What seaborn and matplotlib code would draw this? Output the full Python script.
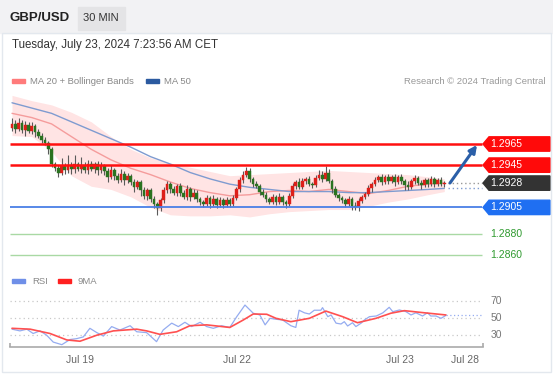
import numpy as np
import pandas as pd
import seaborn as sns
import matplotlib.pyplot as plt
from matplotlib.patches import Polygon, Rectangle

# ---- data (30 min bars, index 0 = first bar) ----
closes = [1.2984, 1.2979, 1.2985, 1.2978, 1.2983, 1.2977, 1.2982, 1.2976,
          1.2973, 1.2969, 1.2966, 1.2960, 1.2946,
          1.2942, 1.2938, 1.2944, 1.2940, 1.2945, 1.2941, 1.2946, 1.2941, 1.2945, 1.2940, 1.2946,
          1.2941, 1.2946, 1.2940, 1.2944,
          1.2939, 1.2934, 1.2940, 1.2935, 1.2931, 1.2937, 1.2931, 1.2935,
          1.2929, 1.2924, 1.2929, 1.2921, 1.2916, 1.2921, 1.2913, 1.2908, 1.2904,
          1.2912, 1.2921, 1.2927, 1.2922, 1.2919, 1.2925,
          1.2919, 1.2915, 1.2922, 1.2915, 1.2919, 1.2913, 1.2910,
          1.2908, 1.2914, 1.2908, 1.2913, 1.2907, 1.2912, 1.2907, 1.2912, 1.2908, 1.2914,
          1.2922, 1.2931, 1.2936, 1.2939, 1.2932,
          1.2927, 1.2925, 1.2920, 1.2917, 1.2913, 1.2910,
          1.2915, 1.2910, 1.2915, 1.2910, 1.2908, 1.2916,
          1.2925, 1.2929, 1.2924, 1.2930, 1.2932, 1.2927, 1.2926, 1.2933, 1.2936, 1.2932, 1.2938,
          1.2930, 1.2922, 1.2917, 1.2914, 1.2912,
          1.2908, 1.2913, 1.2906, 1.2905, 1.2911, 1.2915,
          1.2918, 1.2923, 1.2927, 1.2931, 1.2934, 1.2929,
          1.2934, 1.2930, 1.2934, 1.2929, 1.2934, 1.2930, 1.2926, 1.2924, 1.2930, 1.2933,
          1.2928, 1.2926, 1.2931, 1.2927, 1.2932, 1.2927, 1.2931, 1.2927, 1.2928]
first_open = 1.2980
up_wick = [6, 4, 5, 3, 4, 3, 4, 2, 3, 2, 3, 2, 2,
           2, 3, 8, 3, 10, 3, 9, 2, 8, 3, 4, 3, 2, 3, 4,
           2, 3, 5, 2, 3, 4, 2, 3, 2, 3, 2, 2, 3, 2, 2, 3, 2,
           2, 3, 3, 2, 3, 2, 3, 2, 4, 2, 3, 2, 2,
           2, 3, 2, 4, 2, 3, 2, 3, 2, 3, 2, 3, 3, 4, 3,
           2, 3, 2, 2, 3, 2, 3, 2, 4, 2, 2, 3,
           3, 2, 4, 3, 2, 3, 2, 3, 4, 3, 6, 3, 2, 3, 2, 2,
           2, 3, 2, 4, 3, 2, 2, 3, 2, 3, 2, 3,
           2, 3, 2, 3, 2, 3, 2, 4, 2, 3, 2, 3, 2, 2, 3, 2, 2, 3, 2]
lo_wick = [3, 4, 2, 3, 5, 2, 3, 4, 2, 3, 2, 4, 3,
           3, 4, 2, 3, 2, 4, 3, 2, 3, 2, 3, 2, 3, 4, 2,
           3, 5, 2, 4, 3, 2, 5, 3, 3, 4, 2, 5, 3, 4, 3, 4, 6,
           2, 3, 2, 3, 2, 3, 3, 2, 3, 4, 2, 3, 3,
           3, 2, 4, 2, 3, 2, 3, 2, 3, 2, 2, 2, 3, 2, 3,
           3, 2, 3, 2, 3, 2, 2, 3, 2, 3, 4, 2,
           2, 3, 2, 2, 3, 2, 3, 2, 2, 3, 2, 2, 3, 2, 3, 3,
           3, 2, 3, 2, 3, 2, 2, 2, 3, 2, 2, 3,
           2, 3, 2, 4, 2, 3, 5, 3, 2, 3, 2, 4, 2, 3, 2, 3, 2, 2, 3]

band_idx = [0, 6, 12, 18, 24, 30, 36, 42, 48, 54, 60, 66, 72, 78, 84, 90, 96, 102, 108, 114, 120, 126, 131]
ma50 = [1.3004, 1.2999, 1.2994, 1.2986, 1.2978, 1.2970, 1.2962, 1.2953, 1.2946, 1.2938, 1.2932, 1.2927,
        1.2924, 1.2922, 1.2920, 1.2920, 1.2920, 1.2919, 1.2919, 1.2920, 1.2921, 1.2922, 1.2923]
ma20 = [1.2994, 1.2990, 1.2984, 1.2972, 1.2960, 1.2950, 1.2942, 1.2936, 1.2929, 1.2923, 1.2919, 1.2916,
        1.2917, 1.2920, 1.2921, 1.2920, 1.2922, 1.2920, 1.2918, 1.2921, 1.2925, 1.2927, 1.2928]
bb_upper = [1.3011, 1.3006, 1.3002, 1.2995, 1.2986, 1.2972, 1.2960, 1.2952, 1.2947, 1.2943, 1.2939, 1.2935,
            1.2936, 1.2937, 1.2938, 1.2939, 1.2940, 1.2939, 1.2938, 1.2937, 1.2936, 1.2934, 1.2932]
bb_lower = [1.2973, 1.2972, 1.2958, 1.2935, 1.2925, 1.2922, 1.2915, 1.2905, 1.2898, 1.2897, 1.2897, 1.2898,
            1.2896, 1.2899, 1.2901, 1.2902, 1.2903, 1.2903, 1.2906, 1.2910, 1.2913, 1.2917, 1.2920]

rsi_idx = [0, 2.4, 4.5, 6.4, 8.5, 10.5, 12.5, 15.1, 17.6, 19.6, 21.6, 23.6, 25.7, 27.7, 30.2, 32.7,
           35.8, 37.8, 40.8, 43.8, 45.8, 48.4, 50.4, 52.4, 54.4, 57.0, 59.0, 61.0, 63.5, 66.0, 68.1,
           70.6, 73.1, 75.1, 76.7, 78.2, 80.0, 82.0, 84.5, 86.0, 87.0, 88.6, 90.1, 91.6, 93.6, 94.1,
           95.7, 96.7, 98.2, 99.7, 100.7, 101.7, 103.2, 104.2, 105.8, 106.8, 108.3, 110.4, 112.4,
           114.3, 115.4, 117.4, 119.4, 120.9, 122.4, 124.4, 125.9, 126.9, 128.5, 130.0, 131.5]
rsi_val = [37, 35, 37, 32, 35, 30, 22, 19, 25, 26, 28, 38, 33, 29, 40, 36,
           41, 34, 33, 22.5, 36, 44, 40, 45, 40, 45, 40, 38, 41, 39, 51.5,
           65, 55.5, 53.5, 42, 49.6, 48.5, 47.7, 41, 39, 59, 56, 54.6, 59, 59, 62,
           51.5, 53.5, 44, 43, 45.7, 40.7, 44.5, 40, 44, 47.7, 51.5, 52.3, 56,
           62.4, 57.3, 59.3, 57.3, 53.5, 56, 52.3, 56, 52.3, 52.3, 49.6, 53]
ma9_idx = [0, 5.5, 11.5, 16.6, 20.6, 25.7, 30.7, 37.8, 40.8, 44.8, 49.9, 53.9, 59.0, 66.0, 70.1,
           73.1, 77.2, 80.0, 84.5, 90.1, 95.1, 100.2, 104.7, 110.3, 114.8, 118.9, 125.0, 131.5]
ma9_val = [38, 37, 32, 24.5, 23, 30, 35, 37, 35, 31, 34, 41, 42, 39, 47.7,
           54.6, 54.3, 49.6, 45.7, 49.6, 58, 51.5, 44.5, 49.6, 55.5, 58.5, 56, 53.5]

tick_pos = [20.6, 68.2, 117.6, 137.3]
tick_labels = ['Jul 19', 'Jul 22', 'Jul 23', 'Jul 28']
res_levels = [1.2965, 1.2945]
last_price = 1.2928
sup_level = 1.2905
low_levels = [1.2880, 1.2860]
rsi_grid = [70, 50, 30]

# ---- figure ----
sns.set_style('white')
plt.rcParams['font.family'] = ['Liberation Sans', 'DejaVu Sans']
W, H = 553, 375
fig = plt.figure(figsize=(W / 100, H / 100), dpi=100)


def fx(x):
    return x / W


def fy(y):
    return 1 - y / H


# header strip and frame
fig.patches.append(Rectangle((0, fy(33)), 1, 33 / H, transform=fig.transFigure,
                             color='#f2f2f4', zorder=0))
fig.patches.append(Rectangle((fx(78), fy(30)), 47 / W, 23 / H, transform=fig.transFigure,
                             color='#e4e4e6', zorder=1))
fig.patches.append(Rectangle((fx(2), fy(372)), 549 / W, 339 / H, transform=fig.transFigure,
                             fill=False, ec='#e3e8ee', lw=1, zorder=1))
fig.text(fx(10), fy(18), 'GBP/USD', fontsize=9.5, fontweight='bold', color='#222',
         va='center')
fig.text(fx(101), fy(18), '30 MIN', fontsize=8, color='#333', va='center', ha='center')
fig.text(fx(12), fy(45), 'Tuesday, July 23, 2024 7:23:56 AM CET', fontsize=8.3, color='#333',
         va='center')

# legends
fig.patches.append(Rectangle((fx(12), fy(83)), 13 / W, 4 / H, transform=fig.transFigure,
                             color='#ff7b7b'))
fig.text(fx(30), fy(81), 'MA 20 + Bollinger Bands', fontsize=6.8, color='#888', va='center')
fig.patches.append(Rectangle((fx(146), fy(83)), 13 / W, 4 / H, transform=fig.transFigure,
                             color='#2b5aa0'))
fig.text(fx(164), fy(81), 'MA 50', fontsize=6.8, color='#888', va='center')
fig.text(fx(545), fy(81), 'Research \u00a9 2024 Trading Central', fontsize=6.8, color='#999',
         va='center', ha='right')
fig.patches.append(Rectangle((fx(12), fy(283)), 13 / W, 4 / H, transform=fig.transFigure,
                             color='#6f8fe8'))
fig.text(fx(32), fy(281), 'RSI', fontsize=6.8, color='#888', va='center')
fig.patches.append(Rectangle((fx(58), fy(283)), 13 / W, 4 / H, transform=fig.transFigure,
                             color='#ff2020'))
fig.text(fx(78), fy(281), '9MA', fontsize=6.8, color='#888', va='center')

# ---- price panel ----
x_left = (10 - 12) / 3.3
x_plot_end = (482 - 12) / 3.3
x_right = (550 - 12) / 3.3
ax = fig.add_axes([fx(10), fy(265), 540 / W, 173 / H])
ax.set_xlim(x_left, x_right)
ax.set_ylim(1.28505, 1.30142)
ax.axis('off')

bands = pd.DataFrame({'idx': band_idx, 'ma20': ma20, 'ma50': ma50,
                      'upper': bb_upper, 'lower': bb_lower})
ax.fill_between(bands['idx'], bands['lower'], bands['upper'], color='#ffe4e4', lw=0, zorder=1)
sns.lineplot(data=bands, x='idx', y='ma20', ax=ax, color='#f59c9c', lw=1, zorder=2)
sns.lineplot(data=bands, x='idx', y='ma50', ax=ax, color='#7f9bd0', lw=1, zorder=2)

c = np.array(closes)
o = np.concatenate([[first_open], c[:-1]])
hi = np.maximum(o, c) + np.array(up_wick) * 1e-4
lo = np.minimum(o, c) - np.array(lo_wick) * 1e-4
idx = np.arange(len(c))
ax.vlines(idx, lo, hi, color='#5a5a5a', lw=0.8, zorder=3)
up = c >= o
body = np.maximum(np.abs(c - o), 0.0001)
ax.bar(idx[up], body[up], bottom=np.minimum(o, c)[up], width=0.8, color='#dd1f1a',
       edgecolor='#dd1f1a', lw=0.3, zorder=4)
ax.bar(idx[~up], body[~up], bottom=np.minimum(o, c)[~up], width=0.8, color='#2a7320',
       edgecolor='#2a7320', lw=0.3, zorder=4)

# levels
ax.hlines(res_levels, x_left, x_plot_end, color='#ff1010', lw=1.8, zorder=5)
ax.hlines(sup_level, x_left, x_plot_end, color='#4a7fe6', lw=1.3, zorder=5)
ax.hlines(low_levels, x_left, x_plot_end, color='#a9d9a4', lw=1, zorder=5)
ax.hlines(last_price, len(c), x_plot_end, color='#999', lw=1, ls=(0, (1, 2)), zorder=5)
ax.hlines(ma50[-1], len(c), x_plot_end, color='#7f9bd0', lw=1, ls=(0, (1, 2)), zorder=5)

tip = (483 - 12) / 3.3
shoulder = (489 - 12) / 3.3
half = 0.00068
for lvl, col in [(res_levels[0], '#ff0a0a'), (res_levels[1], '#ff0a0a'),
                 (last_price, '#333333'), (sup_level, '#1f6ff2')]:
    ax.add_patch(Polygon([(tip, lvl), (shoulder, lvl + half), (x_right, lvl + half),
                          (x_right, lvl - half), (shoulder, lvl - half)],
                         closed=True, color=col, zorder=6, clip_on=False))
    ax.text(shoulder + 0.5, lvl, f'{lvl:.4f}', color='white', fontsize=7.5, va='center',
            zorder=7)
for lvl in low_levels:
    ax.text(shoulder + 0.5, lvl, f'{lvl:.4f}', color='#2f9a2f', fontsize=7.5, va='center')

ax.annotate('', xy=((477 - 12) / 3.3, 1.29641), xytext=((450 - 12) / 3.3, 1.29281),
            arrowprops=dict(arrowstyle='-|>', color='#2b5fa8', lw=2.2, mutation_scale=11,
                            shrinkA=0, shrinkB=0), zorder=8)

# ---- RSI panel ----
ax2 = fig.add_axes([fx(10), fy(347), 540 / W, 54 / H])
ax2.set_xlim(x_left, x_right)
ax2.set_ylim(16.3, 79)
for s in ['top', 'right', 'left']:
    ax2.spines[s].set_visible(False)
ax2.spines['bottom'].set_color('#aaa')
ax2.spines['bottom'].set_linewidth(1.2)
ax2.spines['bottom'].set_bounds(x_left, (483 - 12) / 3.3)
ax2.set_yticks([])
ax2.set_xticks(tick_pos)
ax2.set_xticklabels(tick_labels, fontsize=7.5, color='#666')
ax2.tick_params(axis='x', length=0, pad=6)
ax2.vlines([x_left, (483 - 12) / 3.3], 16.3, 21, color='#aaa', lw=1.2, clip_on=False)

ax2.hlines(rsi_grid, x_left, x_plot_end, color='#c8c8c8', lw=0.9, ls=(0, (1, 2.5)))
for g in rsi_grid:
    ax2.text(shoulder + 0.5, g, str(g), fontsize=7.5, color='#777', va='center')

rsi_df = pd.DataFrame({'idx': rsi_idx, 'rsi': rsi_val})
ma9_df = pd.DataFrame({'idx': ma9_idx, 'ma9': ma9_val})
sns.lineplot(data=rsi_df, x='idx', y='rsi', ax=ax2, color='#95acf0', lw=0.9)
sns.lineplot(data=ma9_df, x='idx', y='ma9', ax=ax2, color='#ff5050', lw=1.2)
ax2.hlines(rsi_val[-1], rsi_idx[-1], x_plot_end, color='#95acf0', lw=0.9, ls=(0, (1, 2)))
ax2.set_xlabel('')
ax2.set_ylabel('')

fig.savefig('out.png', dpi=100)
